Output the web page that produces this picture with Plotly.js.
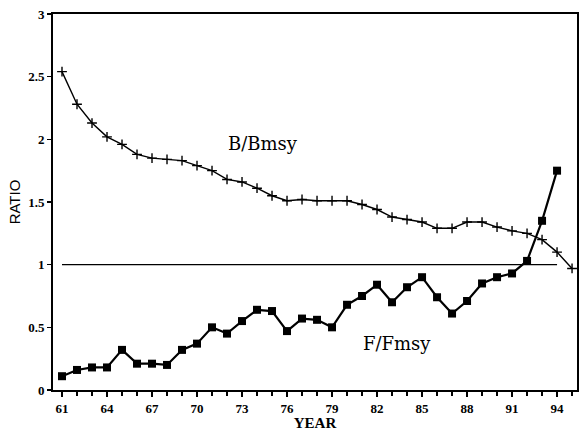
<!DOCTYPE html>
<html>
<head>
<meta charset="utf-8">
<script src="https://cdn.plot.ly/plotly-3.0.1.min.js"></script>
<style>html,body{margin:0;padding:0;background:#fff;}#chart{width:579px;height:431px;}</style>
</head>
<body>
<div id="chart"></div>
<script>
// Years
const yearsF = [61,62,63,64,65,66,67,68,69,70,71,72,73,74,75,76,77,78,79,80,81,82,83,84,85,86,87,88,89,90,91,92,93,94];
const yearsB = [61,62,63,64,65,66,67,68,69,70,71,72,73,74,75,76,77,78,79,80,81,82,83,84,85,86,87,88,89,90,91,92,93,94,95];
// F/Fmsy series
const fRatio = [0.11,0.16,0.18,0.18,0.32,0.21,0.21,0.20,0.32,0.37,
                0.50,0.45,0.55,0.64,0.63,0.47,0.57,0.56,0.50,0.68,
                0.75,0.84,0.70,0.82,0.90,0.74,0.61,0.71,0.85,0.90,
                0.93,1.03,1.35,1.75];
// B/Bmsy series
const bRatio = [2.54,2.28,2.13,2.02,1.96,1.88,1.85,1.84,1.83,1.79,
                1.75,1.68,1.66,1.61,1.55,1.51,1.52,1.51,1.51,1.51,
                1.48,1.44,1.38,1.36,1.34,1.29,1.29,1.34,1.34,1.30,
                1.27,1.25,1.20,1.10,0.97];
// Reference line
const refX = [61, 94];
const refY = [1, 1];
// Tick labels
const xTickVals = [61,64,67,70,73,76,79,82,85,88,91,94];
const xTickText = ['61','64','67','70','73','76','79','82','85','88','91','94'];
const yTickVals = [0,0.5,1,1.5,2,2.5,3];
const yTickText = ['0','0.5','1','1.5','2','2.5','3'];

const traces = [
  {x: refX, y: refY, mode: 'lines', line: {color: '#000', width: 1.3}, hoverinfo: 'skip', showlegend: false},
  {x: yearsB, y: bRatio, mode: 'lines+markers', line: {color: '#000', width: 1.4},
   marker: {symbol: 'cross-thin-open', size: 7, color: '#000', line: {width: 1.4, color: '#000'}}, showlegend: false},
  {x: yearsF, y: fRatio, mode: 'lines+markers', line: {color: '#000', width: 2.2},
   marker: {symbol: 'square', size: 8, color: '#000'}, showlegend: false}
];

const tickFont = {family: 'Liberation Serif', size: 13, color: '#000', weight: 'bold'};
const layout = {
  width: 579, height: 431,
  margin: {l: 53, r: 2, t: 14, b: 41},
  paper_bgcolor: '#fff', plot_bgcolor: '#fff',
  showlegend: false,
  xaxis: {
    range: [60.4, 95.33],
    tickmode: 'array', tickvals: xTickVals, ticktext: xTickText,
    ticks: 'outside', ticklen: 5, tickwidth: 1.5, tickcolor: '#000',
    minor: {dtick: 1, tick0: 61, ticks: 'outside', ticklen: 4, tickwidth: 1.2, tickcolor: '#000', showgrid: false},
    showline: true, linewidth: 2, linecolor: '#000', mirror: true,
    showgrid: false, zeroline: false,
    tickfont: tickFont,
    title: {text: 'YEAR', font: {family: 'Liberation Serif', size: 15, color: '#000', weight: 'bold'}, standoff: 3}
  },
  yaxis: {
    range: [0, 3],
    tickmode: 'array', tickvals: yTickVals, ticktext: yTickText,
    ticks: 'outside', ticklen: 4, tickwidth: 1.2, tickcolor: '#000',
    showline: true, linewidth: 2, linecolor: '#000', mirror: true,
    showgrid: false, zeroline: false,
    tickfont: tickFont,
    title: {text: 'RATIO', font: {family: 'Liberation Sans', size: 15, color: '#000'}, standoff: 4}
  },
  annotations: [
    {x: 74.4, y: 1.97, xref: 'x', yref: 'y', text: 'B/Bmsy', showarrow: false,
     font: {family: 'DejaVu Serif', size: 18, color: '#000'}},
    {x: 83.3, y: 0.37, xref: 'x', yref: 'y', text: 'F/Fmsy', showarrow: false,
     font: {family: 'DejaVu Serif', size: 18, color: '#000'}}
  ]
};

Plotly.newPlot('chart', traces, layout, {displayModeBar: false, staticPlot: true});
</script>
</body>
</html>
